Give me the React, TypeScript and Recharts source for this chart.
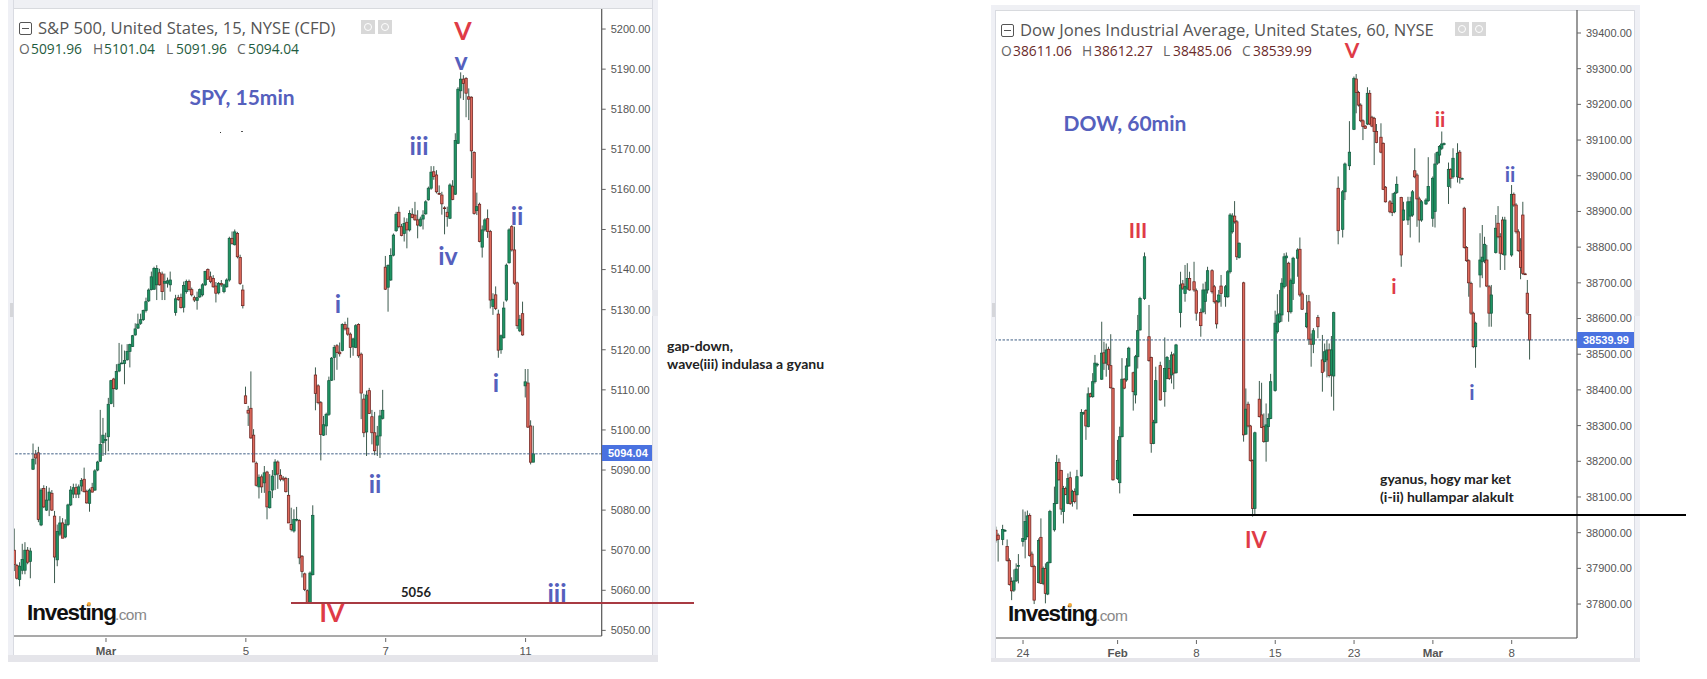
import React from "react";
import { ComposedChart, Bar, XAxis, YAxis, ReferenceLine } from "recharts";

type Bar4 = number[];
const spySessionStarts = [0, 7, 60, 86, 112, 138, 190];
const spyA: Bar4[] = [[5070,5075.4,5064.8,5066.4],[5066.2,5066.6,5062.7,5063],[5062.7,5067,5061,5066],[5065,5071.6,5064,5067.7],[5065,5072,5064,5070],[5070,5070.8,5066.5,5067],[5067.2,5070.6,5063,5069.8]];
const spyB: Bar4[] = [[5090.2,5096.6,5090,5092.7],[5094,5095,5091.4,5093],[5094.3,5095.8,5077,5077.7],[5076.3,5085.5,5076,5085],[5085.4,5086.2,5080.5,5080.8],[5080,5086,5079.8,5082.5],[5082.5,5085.6,5078.5,5084.5],[5084.2,5085,5079.8,5080],[5078.5,5079.8,5061.8,5068.3],[5067.6,5076.4,5066,5074.7],[5074,5078.5,5073.5,5076.8],[5076.8,5078,5073,5073],[5073.3,5077.7,5073,5076.4],[5076.4,5081.6,5076,5081.3],[5081.3,5086,5081,5085],[5084,5086.6,5083,5085.6],[5085.6,5086.6,5083,5084],[5084,5086.4,5083,5085.8],[5086,5088,5084.7,5087.4],[5087.7,5090.6,5084.4,5084.6],[5084.7,5085.1,5081.6,5081.8],[5081.7,5085.4,5079.6,5085],[5085.6,5086.8,5084.4,5084.5],[5085,5090.2,5084.8,5089.8],[5090,5092.3,5089.7,5092],[5092.2,5105,5092,5096.4],[5096.8,5103,5093.5,5098.7],[5097.4,5099.3,5093.8,5097.6],[5098.3,5108,5094.7,5106.4],[5106.6,5112.5,5106.4,5112.3],[5112.7,5113,5105.7,5110.3],[5110.2,5116.4,5110,5114.6],[5114.7,5121.7,5114.4,5116.4],[5116.5,5121.3,5116.4,5116.7],[5116.6,5119.8,5111.4,5117.3],[5117.5,5121.4,5117.3,5119.6],[5119.6,5121.5,5115.6,5121.3],[5120.8,5123.7,5120.7,5123.5],[5123.7,5126.6,5123.5,5125.2],[5125.4,5129,5125.2,5126.4],[5126.6,5129,5126.2,5127.5],[5127.5,5130,5127.2,5129.8],[5129.8,5133,5129.3,5132],[5132.2,5135.3,5131.9,5134.9],[5135,5139.5,5134.8,5138.2],[5135.1,5140.7,5134.9,5140.3],[5136.2,5141.1,5132.4,5140.3],[5139.2,5140.2,5136,5136.2],[5138.9,5139.5,5132.4,5134.5],[5136.6,5139,5132.4,5137],[5136.6,5138,5135.5,5137.2],[5136.2,5139.5,5134.5,5137.4]];
const spyC: Bar4[] = [[5129.3,5133.7,5128.5,5132.7],[5133,5133.7,5132.2,5132.5],[5133,5134,5130.3,5130.5],[5130.6,5137,5129.3,5136],[5134.5,5137.5,5134,5137],[5137,5137.5,5134.5,5135],[5135,5135.5,5133.3,5133.7],[5133,5133.5,5131.9,5132.4],[5132.3,5134.5,5130,5133],[5133.2,5135.3,5132.9,5135],[5133.7,5136.6,5133.3,5136.2],[5136.2,5139.7,5135.9,5139.5],[5140,5140.3,5137.4,5137.6],[5138.2,5139.5,5136.6,5137],[5137.8,5138.6,5135.5,5135.7],[5135.9,5136.9,5131.8,5134.1],[5134.2,5136.9,5133.8,5136.5],[5136.5,5137.4,5135.7,5136.2],[5134.5,5136.5,5134.1,5136.2],[5135.7,5137.8,5135.5,5137.4],[5137.4,5148.2,5137,5147.8],[5147.8,5149.5,5146.2,5146.5],[5146.2,5150,5146,5149.4],[5149,5149.4,5142.8,5143.2],[5143,5143.7,5136.2,5136.5],[5134.9,5136.2,5130.3,5131]];
const spyD: Bar4[] = [[5108.5,5110.8,5106.5,5106.6],[5104.9,5106,5101,5104.2],[5105.4,5114.6,5097.8,5098],[5098.7,5100.2,5092,5092],[5091.7,5092.1,5085.9,5086.2],[5085.8,5088.9,5082.9,5088.2],[5088.3,5088.9,5084.3,5085.8],[5086.8,5091,5084.3,5089.3],[5089.5,5089.8,5077.7,5080.8],[5080.6,5089,5080.4,5084.6],[5085,5090,5083,5088.5],[5088.8,5092.7,5085,5092],[5092,5092.4,5085.3,5089],[5088.7,5090.2,5087.2,5087.7],[5088,5088.5,5087.2,5087.7],[5087.9,5088.3,5084.4,5084.6],[5083.7,5088,5076.8,5076.8],[5076.4,5080.6,5074.7,5075.2],[5074.8,5080.2,5074.4,5077.7],[5077.5,5080.8,5077.2,5077.7],[5077.4,5077.7,5066.5,5068.1],[5068.5,5068.8,5063.2,5064.7],[5064.1,5064.4,5059.8,5060.2],[5059.9,5060.2,5056.7,5057],[5057,5064.7,5056.7,5064.3],[5063.9,5081.2,5063.7,5078.7]];
const spyE: Bar4[] = [[5113.7,5115.6,5104.9,5109.1],[5111,5111.4,5106.4,5106.8],[5106.8,5107.2,5092.4,5098.9],[5098.7,5103.5,5098.5,5101.3],[5101,5104.3,5098.7,5103.9],[5103.9,5113.3,5103.5,5112.3],[5112.4,5118.2,5112.2,5117.9],[5118.1,5121.2,5112.4,5120.6],[5121,5121.4,5115,5119.3],[5119.4,5121.8,5118.3,5119],[5119.8,5126.6,5119.6,5126.3],[5126.3,5127,5124.8,5125.2],[5125.4,5128,5123.5,5123.9],[5123.9,5124.3,5118,5120.6],[5120.7,5123,5118.5,5122.7],[5120.6,5126.4,5120.4,5126],[5126.3,5126.6,5118,5118.5],[5118.9,5119.3,5102.7,5109.2],[5107.7,5109,5098.2,5099.3],[5099.5,5109.8,5093.5,5108.7],[5109.8,5110.5,5104,5104.1],[5103.3,5105,5096.4,5099.3],[5099.3,5104.5,5093.7,5094.8],[5096.2,5101,5093.5,5098.5],[5098.5,5105,5093,5103.5],[5102.9,5110,5102.6,5104.9]];
const spyF: Bar4[] = [[5140.6,5143.4,5134.9,5135.1],[5135.6,5141.3,5129.5,5141],[5137.4,5145.3,5137.2,5143.5],[5143.6,5149,5143.3,5148.6],[5149.7,5154.4,5149.4,5153.8],[5154.3,5155.7,5150.3,5150.7],[5150.7,5151.4,5148.3,5148.5],[5149,5153,5147,5151.5],[5151.8,5152.8,5145.3,5149.9],[5149.9,5154.8,5149.5,5154],[5153.8,5155.3,5152.8,5153],[5153.6,5156.9,5152.2,5152.4],[5152.4,5154.8,5147.8,5151.1],[5150.9,5153.2,5150.7,5152.6],[5152.6,5154.8,5150,5153.6],[5153.9,5157.3,5153.7,5156.9],[5157.4,5160.7,5157.2,5160.3],[5160.3,5165.8,5159.9,5164.3],[5164.4,5165.8,5162.4,5163.2],[5163.6,5164.8,5159,5159.4],[5159,5161,5158.6,5158.8],[5158.6,5159.4,5153.7,5156.4],[5155.4,5155.8,5148.8,5155.3],[5154.3,5155.7,5150.7,5153.2],[5152.8,5161.5,5152.6,5161.1],[5160.8,5162.3,5157.3,5157.5],[5158.8,5174,5158.6,5172.2],[5171.5,5185.5,5171.3,5185],[5184.6,5189.2,5182.7,5187.5],[5187.5,5188.5,5182.3,5186.4],[5187.7,5188,5178,5184],[5183.1,5185.2,5177.3,5182.5],[5183,5183.2,5162.8,5169.6],[5169.2,5169.5,5153.7,5154],[5154.7,5159.2,5153.6,5155.7],[5156.3,5156.7,5146.8,5147],[5145.6,5151,5143,5149.9],[5149.9,5152.8,5149.5,5152.4],[5152.7,5155,5147.9,5149.5],[5149.5,5149.9,5130.3,5132.4],[5130.8,5134.1,5128.7,5132.6],[5133.7,5135.8,5129.9,5130.3],[5128.9,5130,5118,5119.9],[5120,5123.8,5119,5123.5],[5123,5132,5122.8,5130.4],[5132.4,5141.5,5132,5141.1],[5141.7,5150.3,5141.5,5149.9],[5150.7,5151.1,5144.5,5144.9],[5144.9,5150.7,5136.2,5136.6],[5136.7,5137,5125.2,5126],[5124.7,5128.7,5124.4,5127.6],[5129,5132,5123.5,5123.7]];
const spyG: Bar4[] = [[5111,5115.2,5108.1,5112],[5111.7,5115.2,5100.5,5100.7],[5101,5102.4,5091.4,5091.96],[5091.96,5101.04,5091.96,5094.04]];
const spySessions = [spyA, spyB, spyC, spyD, spyE, spyF, spyG];

const dowJanFeb: Bar4[] = [[0,38007,38017,37972,37979],[1,37993,37998,37919,37981],[3,37981,38022,37965,38009],[4,38006,38010,38003,38006.5],[5,37961,37981,37919,37922],[6,37922,37928,37852,37855],[7,37863,37875,37811,37837],[8,37839,37897,37834,37865],[9,37865,37914,37862,37898],[10,37907,37940,37858,37908],[12,37975,38065,37961,37984],[13,37981,38059,37928,38031],[14,37989,38062,37987,38047],[15,38048,38054,37933,37936],[16,37940,37947,37903,37905],[17,37905,37910,37800,37811],[19,37860,37984,37858,37978],[20,37987,38040,37856,37858],[21,37858,37905,37853,37900],[22,37900,37914,37802,37830],[23,37828,37919,37825,37916],[24,37916,38064,37914,38059],[26,38008,38129,38003,38082],[27,38082,38218,38080,38197],[28,38197,38208,38146,38148],[29,38174,38176,38050,38066],[30,38059,38131,38026,38124],[31,38124,38129,38105,38107],[32,38082,38166,38080,38152],[33,38154,38171,38078,38082],[34,38087,38120,38073,38115],[35,38115,38124,38082,38087],[36,38106,38176,38065,38157],[38,38159,38346,38157,38337],[39,38335,38339,38330,38336],[40,38342,38346,38260,38299],[41,38297,38407,38295,38389],[42,38389,38392,38379,38381],[43,38381,38447,38378,38423],[44,38423,38498,38418,38475],[45,38470,38476,38465,38472],[47,38430,38591,38428,38503],[48,38504,38535,38456,38475],[49,38475,38530,38437,38512],[50,38514,38521,38456,38470],[51,38468,38556,38404,38406],[52,38404,38407,38146,38148],[54,38152,38260,38148,38202],[55,38140,38297,38110,38269],[56,38269,38489,38267,38430],[57,38430,38433,38402,38405],[58,38428,38489,38423,38467],[59,38467,38521,38465,38517],[61,38448,38451,38342,38395],[62,38386,38498,38362,38493],[63,38493,38610,38460,38566],[64,38568,38661,38566,38656],[66,38656,38785,38652,38773]];
const dowFeb: Bar4[] = [[68,38549,38638,38479,38482],[69,38491,38493,38224,38250],[70,38250,38316,38248,38309],[71,38308,38465,38306,38426],[73,38468,38479,38370,38372],[75,38395,38547,38353,38460],[76,38432,38495,38430,38491],[77,38460,38484,38428,38432],[78,38442,38507,38418,38498],[79,38498,38503,38402,38447],[80,38448,38529,38446,38526],[82,38617,38731,38575,38694],[83,38697,38708,38680,38685],[84,38670,38750,38647,38690],[85,38685,38755,38680,38712],[86,38712,38731,38678,38680],[88,38703,38759,38675,38680],[89,38678,38684,38594,38615],[91,38617,38628,38549,38580],[92,38619,38698,38615,38680],[93,38648,38703,38612,38680],[94,38680,38745,38670,38734],[96,38734,38738,38670,38675],[97,38689,38694,38642,38647],[98,38647,38652,38572,38585],[99,38647,38680,38643,38666],[100,38691,38722,38633,38670],[102,38661,38694,38633,38689],[103,38661,38736,38658,38731],[104,38731,38895,38726,38890],[105,38843,38895,38838,38887],[106,38887,38929,38866,38871],[107,38871,38876,38764,38773],[108,38771,38813,38768,38811],[110,38700,38703,38255,38274],[111,38276,38404,38274,38346],[112,38360,38367,38295,38299],[113,38299,38302,38199,38202],[114,38202,38205,38045,38068],[115,38068,38283,38047,38280],[117,38374,38425,38323,38325],[118,38330,38420,38293,38295],[119,38297,38334,38252,38255],[120,38255,38362,38199,38302],[121,38297,38334,38255,38320],[122,38320,38445,38318,38423],[124,38398,38622,38395,38587],[125,38563,38668,38558,38610],[126,38591,38680,38587,38613],[127,38610,38713,38591,38699],[128,38689,38783,38684,38773],[129,38770,38785,38690,38775],[130,38755,38759,38591,38619],[131,38619,38712,38614,38706],[132,38698,38773,38652,38769],[134,38769,38797,38717,38792],[135,38794,38827,38661,38666],[136,38669,38675,38624,38626],[138,38577,38666,38573,38615],[139,38647,38666,38526,38542],[140,38542,38558,38465,38528],[141,38528,38573,38503,38566],[143,38603,38610,38545,38577],[145,38484,38554,38395,38449],[146,38479,38530,38451,38507],[147,38484,38540,38435,38512],[148,38512,38530,38435,38440],[149,38442,38551,38381,38512],[150,38439,38619,38342,38616.5]];
const dowFebMar: Bar4[] = [[152,38965,38998,38808,38846],[154,38850,38960,38827,38955],[155,38955,39037,38932,39033],[157,39028,39153,39016,39066],[159,39130,39278,39128,39273],[160,39271,39285,39175,39233],[161,39233,39238,39194,39198],[162,39198,39203,39150,39154],[163,39154,39158,39100,39138],[164,39139,39142,39131,39133],[165,39145,39248,39142,39231],[166,39231,39240,39142,39145],[167,39164,39168,39136,39139],[168,39161,39165,39030,39124],[169,39124,39145,39091,39093],[171,39108,39147,39063,39066],[172,39091,39093,38960,38962],[173,38968,38971,38925,38927],[175,38927,38932,38895,38899],[176,38922,38951,38887,38897],[177,38899,38955,38895,38951],[178,38953,38998,38949,38976],[180,38939,38941,38745,38778],[181,38876,38927,38874,38904],[183,38876,38941,38862,38927],[184,38887,38941,38827,38927],[185,38890,38960,38885,38955],[186,39014,39077,38993,38997],[187,39002,39007,38857,38935],[188,38935,38941,38813,38876],[189,38876,38932,38871,38927],[191,38921,38937,38918,38932],[192,38930,39052,38927,38970],[194,38881,38998,38857,38993],[195,38900,39063,38855,39033],[196,39035,39068,39030,39065],[197,39058,39086,39035,39082],[198,39077,39124,39072,39089],[199,39088,39093,39085,39090],[201,38970,39037,38921,39018],[202,39018,39021,38965,38993],[203,38997,39077,38992,39049],[205,38997,39091,38981,39063],[206,39066,39072,38978,38995],[207,38992,38995,38990,38992.5]];
const dowMar: Bar4[] = [[208,38909,38913,38796,38799],[209,38799,38803,38759,38762],[210,38762,38766,38661,38700],[211,38698,38703,38610,38615],[212,38615,38619,38517,38521],[213,38521,38591,38462,38587],[215,38722,38839,38687,38764],[216,38759,38862,38713,38772],[217,38762,38829,38755,38808],[218,38764,38806,38688,38691],[219,38689,38694,38577,38615],[220,38615,38694,38577,38666],[222,38785,38890,38782,38853],[223,38867,38915,38825,38829],[224,38829,38839,38736,38783],[225,38876,38885,38778,38781],[226,38778,38885,38736,38876],[229,38778,38974,38773,38948],[230,38948,38953,38913,38918],[231,38918,38923,38838,38843],[232,38843,38850,38787,38790],[233,38790,38825,38710,38743],[234,38890,38927,38722,38726],[235,38725,38728,38722,38724],[236,38671,38708,38610,38615],[237,38611.06,38612.27,38485.06,38539.99]];

const spyTicks = [5050,5060,5070,5080,5090,5100,5110,5120,5130,5140,5150,5160,5170,5180,5190,5200];
const dowTicks = [37800,37900,38000,38100,38200,38300,38400,38500,38600,38700,38800,38900,39000,39100,39200,39300,39400];
const spyDateSlots = [34, 86, 138, 190];
const spyDateLabels = ["Mar", "5", "7", "11"];
const dowDateSlots = [12, 54, 89, 124, 159, 194, 229];
const dowDateLabels = ["24", "Feb", "8", "15", "23", "Mar", "8"];

const toRow = (slot: number, b: number[]) => ({ slot, open: b[0], high: b[1], low: b[2], close: b[3], range: [b[2], b[1]] });
const spyRows = spySessions.flatMap((s, k) => s.map((b, j) => toRow(spySessionStarts[k] + j, b)));
const dowRows = [...dowJanFeb, ...dowFeb, ...dowFebMar, ...dowMar].map((b) => toRow(b[0], b.slice(1)));

const Candle = (p: any) => {
  const { x, y, width, height, payload } = p;
  if (!payload) return null;
  const { open, high, low, close } = payload;
  const k = Math.abs(height) / (high - low);
  const up = close >= open;
  const top = y + (high - Math.max(open, close)) * k;
  const h = Math.max(Math.abs(open - close) * k, 0.8);
  const cx = x + width / 2;
  return (
    <g>
      <line x1={cx} x2={cx} y1={y} y2={y + Math.abs(height)} stroke="#27483a" strokeWidth={0.9} />
      <rect x={cx - 1.2} y={top} width={2.4} height={h} fill={up ? "#1f9463" : "#de6a5c"} stroke={up ? "#145c41" : "#6e2320"} strokeWidth={0.75} />
    </g>
  );
};

const DateTick = (labels: string[], slots: number[]) => (p: any) => {
  const label = labels[slots.indexOf(p.payload.value)];
  const bold = label === "Mar" || label === "Feb";
  return (
    <g>
      <line x1={p.x} x2={p.x} y1={p.y - 6} y2={p.y - 2} stroke="#666" />
      <text x={p.x} y={p.y + 11} textAnchor="middle" fontFamily="Liberation Sans" fontSize={11.5} fontWeight={bold ? 700 : 400} fill="#555">{label}</text>
    </g>
  );
};

const Wave = ({ x, y, c, s, t }: any) => (
  <span style={{ position: "absolute", left: x, top: y, transform: "translate(-50%,-50%)", color: c, fontFamily: "Lato", fontWeight: 700, fontSize: s, lineHeight: 1, whiteSpace: "pre" }}>{t}</span>
);
const Txt = ({ x, y, t, s = 14, c = "#222", w = 700, f = "Lato" }: any) => (
  <span style={{ position: "absolute", left: x, top: y, transform: "translateY(-50%)", color: c, fontFamily: f, fontWeight: w, fontSize: s, lineHeight: 1, whiteSpace: "pre" }}>{t}</span>
);
const Box = ({ x, y, w, h, c, z }: any) => <div style={{ position: "absolute", left: x, top: y, width: w, height: h, background: c, zIndex: z }} />;

const Header = ({ iconX, title, titleX, titleSize, eyeX, ohlc, vc, y0 }: any) => (
  <>
    <div style={{ position: "absolute", left: iconX, top: y0 - 6, width: 11, height: 11, border: "1px solid #555", borderRadius: 2 }}>
      <div style={{ position: "absolute", left: 2, right: 2, top: 5, height: 1, background: "#555" }} />
    </div>
    <Txt x={titleX} y={y0} t={title} s={titleSize} c="#555" w={500} f="Open Sans" />
    {ohlc.map((o: any, i: number) => <Txt key={i} x={o[0]} y={y0 + 21} t={o[1]} s={13.8} c={o[2] ? "#666" : vc} w={400} f="Open Sans" />)}
    <Box x={eyeX} y={y0 - 8} w={14} h={14} c="#d8d8d8" />
    <Box x={eyeX + 17} y={y0 - 8} w={14} h={14} c="#d8d8d8" />
    <div style={{ position: "absolute", left: eyeX + 3, top: y0 - 5, width: 6, height: 6, borderRadius: 5, border: "1px solid #fff" }} />
    <div style={{ position: "absolute", left: eyeX + 20, top: y0 - 5, width: 6, height: 6, borderRadius: 5, border: "1px solid #fff" }} />
  </>
);

const Logo = ({ x, y }: any) => (
  <>
    <span style={{ position: "absolute", left: x, top: y, transform: "translateY(-50%)", fontFamily: "Liberation Sans", fontWeight: 700, fontSize: 22.5, letterSpacing: -1.1, color: "#111", lineHeight: 1 }}>Investing</span>
    <span style={{ position: "absolute", left: x + 88, top: y + 2, transform: "translateY(-50%)", fontFamily: "Liberation Sans", fontSize: 15.5, letterSpacing: -0.6, color: "#888", lineHeight: 1 }}>.com</span>
    <div style={{ position: "absolute", left: x + 60, top: y - 11, width: 4, height: 4, borderRadius: 3, background: "#f2a93b" }} />
  </>
);

const RED = "#df3b47";
const BLUE = "#5560bd";

export default function App() {
  return (
    <div style={{ position: "absolute", left: 0, top: 0, width: 1707, height: 679, background: "#fff", overflow: "hidden" }}>
      {/* left frame */}
      <Box x={8} y={0} w={650} h={8} c="#eff0f4" />
      <Box x={8} y={8} w={650} h={1} c="#d8dade" />
      <Box x={8} y={0} w={6} h={662} c="#eff0f5" />
      <Box x={13} y={0} w={1} h={662} c="#d9dbe2" />
      <Box x={652} y={0} w={6} h={662} c="#eff0f5" />
      <Box x={652} y={0} w={1} h={662} c="#d9dbe2" />
      <Box x={8} y={655} w={650} h={7} c="#e5e5ea" />
      <Box x={10} y={303} w={3} h={14} c="#d5d6da" />
      <Box x={652} y={290} w={6} h={26} c="#e8e9ee" />
      {/* right frame */}
      <Box x={991} y={5} w={649} h={5} c="#eff0f4" />
      <Box x={996} y={10} w={638} h={1} c="#d8dade" />
      <Box x={991} y={5} w={5} h={657} c="#eff0f5" />
      <Box x={995} y={10} w={1} h={652} c="#d9dbe2" />
      <Box x={1634} y={5} w={6} h={657} c="#eff0f5" />
      <Box x={1634} y={10} w={1} h={652} c="#d9dbe2" />
      <Box x={991} y={658} w={649} h={4} c="#e5e5ea" />
      <Box x={992} y={303} w={3} h={14} c="#d5d6da" />
      <Box x={1634} y={290} w={6} h={26} c="#e8e9ee" />

      <div style={{ position: "absolute", left: 0, top: 0 }}>
        <ComposedChart width={700} height={679} data={spyRows} margin={{ top: 9, left: 14, right: 0, bottom: 0 }} style={{ background: "transparent" }}>
          <XAxis xAxisId="x" dataKey="slot" type="number" scale="linear" domain={[-0.2, 218.3]} ticks={spyDateSlots} interval={0} allowDataOverflow height={43} tickLine={false} axisLine={{ stroke: "#555", strokeWidth: 1.2 }} tick={DateTick(spyDateLabels, spyDateSlots)} />
          <YAxis yAxisId="y" orientation="right" domain={[5048.6, 5205]} ticks={spyTicks} interval={0} allowDataOverflow width={98.3} tickSize={4} tickLine={{ stroke: "#666" }} axisLine={{ stroke: "#555", strokeWidth: 1.2 }} tickFormatter={(v: number) => v.toFixed(2)} tickMargin={5} tick={{ fontFamily: "Liberation Sans", fontSize: 11, fill: "#555", textAnchor: "start" }} />
          <ReferenceLine xAxisId="x" yAxisId="y" y={5094.04} stroke="#3f5f85" strokeDasharray="2.5 1.5" strokeWidth={1} />
          <Bar xAxisId="x" yAxisId="y" dataKey="range" barSize={2} shape={Candle} isAnimationActive={false} />
        </ComposedChart>
      </div>
      <div style={{ position: "absolute", left: 900, top: 0 }}>
        <ComposedChart width={760} height={679} data={dowRows} margin={{ top: 10, left: 96, right: 0, bottom: 0 }}>
          <XAxis xAxisId="x" dataKey="slot" type="number" scale="linear" domain={[0, 258]} ticks={dowDateSlots} interval={0} allowDataOverflow height={41} tickLine={false} axisLine={{ stroke: "#555", strokeWidth: 1.2 }} tick={DateTick(dowDateLabels, dowDateSlots)} />
          <YAxis yAxisId="y" orientation="right" domain={[37704.9, 39464.4]} ticks={dowTicks} interval={0} allowDataOverflow width={83} tickSize={4} tickLine={{ stroke: "#666" }} axisLine={{ stroke: "#555", strokeWidth: 1.2 }} tickFormatter={(v: number) => v.toFixed(2)} tickMargin={5} tick={{ fontFamily: "Liberation Sans", fontSize: 11, fill: "#555", textAnchor: "start" }} />
          <ReferenceLine xAxisId="x" yAxisId="y" y={38539.99} stroke="#3f5f85" strokeDasharray="2.5 1.5" strokeWidth={1} />
          <Bar xAxisId="x" yAxisId="y" dataKey="range" barSize={2} shape={Candle} isAnimationActive={false} />
        </ComposedChart>
      </div>

      {/* price tags and drawn lines */}
      <div style={{ position: "absolute", left: 602, top: 445, width: 50, height: 16, background: "#4a72e0", color: "#fff", fontFamily: "Liberation Sans", fontWeight: 700, fontSize: 11, lineHeight: "16px", paddingLeft: 6, boxSizing: "border-box" }}>5094.04</div>
      <div style={{ position: "absolute", left: 1577, top: 332, width: 57, height: 16, background: "#4a72e0", color: "#fff", fontFamily: "Liberation Sans", fontWeight: 700, fontSize: 11, lineHeight: "16px", paddingLeft: 6, boxSizing: "border-box" }}>38539.99</div>
      <Box x={291} y={602} w={403} h={1.5} c="#a83a42" />
      <Box x={1133} y={514} w={553} h={1.5} c="#000" />
      <Box x={220} y={132} w={1} h={1} c="#333" />
      <Box x={241} y={131} w={2} h={1} c="#555" />

      <Header iconX={19} y0={28} title="S&P 500, United States, 15, NYSE (CFD)" titleX={38} titleSize={16.6} eyeX={361} vc="#1f5c40"
        ohlc={[[19,"O",1],[31,"5091.96",0],[93,"H",1],[104,"5101.04",0],[166,"L",1],[176,"5091.96",0],[237,"C",1],[248,"5094.04",0]]} />
      <Header iconX={1001} y0={30} title="Dow Jones Industrial Average, United States, 60, NYSE" titleX={1020} titleSize={16.6} eyeX={1455} vc="#6b2a2a"
        ohlc={[[1001,"O",1],[1013,"38611.06",0],[1082,"H",1],[1094,"38612.27",0],[1163,"L",1],[1173,"38485.06",0],[1242,"C",1],[1253,"38539.99",0]]} />

      <Logo x={27} y={613} />
      <Logo x={1008} y={614} />

      <Wave x={242} y={96} c={BLUE} s={21} t="SPY, 15min" />
      <Wave x={463} y={30} c={RED} s={25} t="V" />
      <Wave x={461} y={60} c={BLUE} s={25} t="v" />
      <Wave x={419} y={145} c={BLUE} s={25} t="iii" />
      <Wave x={448} y={255} c={BLUE} s={25} t="iv" />
      <Wave x={338} y={303} c={BLUE} s={25} t="i" />
      <Wave x={517} y={215} c={BLUE} s={25} t="ii" />
      <Wave x={375} y={483} c={BLUE} s={25} t="ii" />
      <Wave x={496} y={382} c={BLUE} s={25} t="i" />
      <Wave x={557} y={592} c={BLUE} s={25} t="iii" />
      <Wave x={332} y={612} c={RED} s={25} t="IV" />
      <Wave x={416} y={592} c="#222" s={13} t="5056" />
      <Txt x={667} y={346} t="gap-down," />
      <Txt x={667} y={364} t="wave(iii) indulasa a gyanu" />

      <Wave x={1125} y={122} c={BLUE} s={21} t="DOW, 60min" />
      <Wave x={1138} y={229} c={RED} s={21} t="III" />
      <Wave x={1352} y={49} c={RED} s={21} t="V" />
      <Wave x={1440} y={118} c={RED} s={21} t="ii" />
      <Wave x={1394} y={285} c={RED} s={21} t="i" />
      <Wave x={1510} y={173} c={BLUE} s={21} t="ii" />
      <Wave x={1472} y={391} c={BLUE} s={21} t="i" />
      <Wave x={1256} y={540} c={RED} s={22} t="IV" />
      <Txt x={1380} y={479} t="gyanus, hogy mar ket" />
      <Txt x={1380} y={497} t="(i-ii) hullampar alakult" />
    </div>
  );
}
